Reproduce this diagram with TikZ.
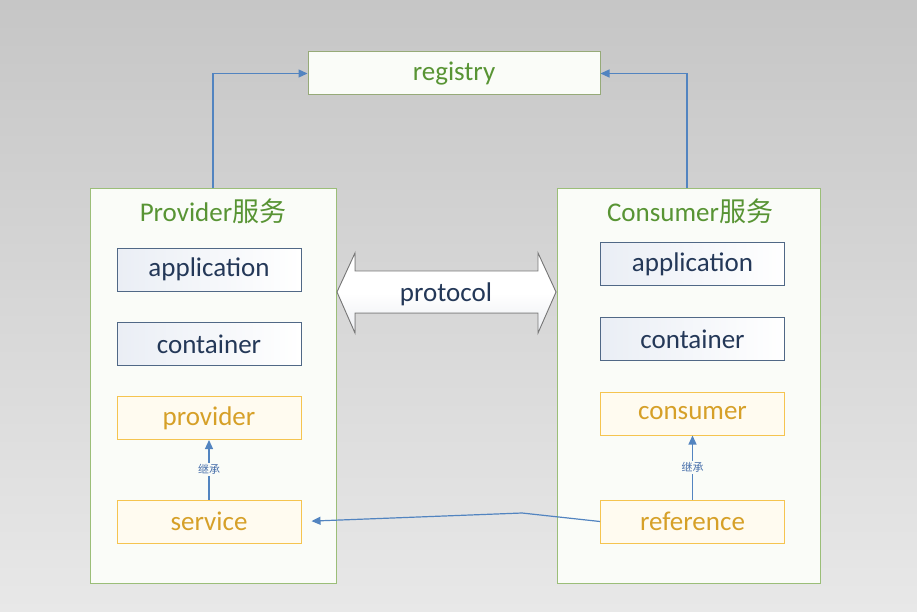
\documentclass[tikz,border=0pt]{standalone}
\usepackage{fontspec}
\setmainfont{Carlito}
\newfontfamily\cjk{Noto Sans CJK SC}
\usetikzlibrary{arrows.meta}
\definecolor{gtext}{RGB}{88,148,52}
\definecolor{gline}{RGB}{155,190,120}
\definecolor{bline}{RGB}{80,104,134}
\definecolor{btext}{RGB}{36,56,88}
\definecolor{oline}{RGB}{245,196,80}
\definecolor{otext}{RGB}{214,160,40}
\definecolor{arrc}{RGB}{82,132,192}
\definecolor{lbl}{RGB}{70,110,170}
\definecolor{outerfill}{RGB}{250,252,248}
\definecolor{bgtop}{RGB}{198,198,198}
\definecolor{bgmid}{RGB}{222,222,222}
\definecolor{bgbot}{RGB}{232,232,232}
\definecolor{bluefill}{RGB}{234,238,245}
\definecolor{orfill}{RGB}{255,251,240}
\definecolor{regline}{RGB}{150,170,120}
\definecolor{regfill}{RGB}{250,252,248}
\definecolor{protoline}{RGB}{120,120,120}
\definecolor{protofill}{RGB}{236,238,242}
\begin{document}
\begin{tikzpicture}[x=1pt,y=-1pt,
  outerbox/.style={draw=gline,fill=outerfill,line width=0.9pt,rectangle},
  bluebox/.style={draw=bline,line width=1pt,left color=bluefill,right color=white,text=btext,minimum width=184pt,minimum height=43pt,font=\fontsize{27}{30}\selectfont},
  orbox/.style={draw=oline,line width=1pt,fill=orfill,text=otext,minimum width=184pt,minimum height=43pt,font=\fontsize{27}{30}\selectfont},
  titletext/.style={text=gtext,font=\fontsize{27}{30}\selectfont},
  arr/.style={draw=arrc,line width=1.2pt,-{Triangle[length=9pt,width=8pt]}},
  inh/.style={text=lbl,fill=outerfill,inner sep=1.5pt,font=\cjk\fontsize{11}{12}\selectfont}
]
\useasboundingbox (0,0) rectangle (917,612);
\shade[top color=bgtop,middle color=bgmid,bottom color=bgbot] (0,0) rectangle (917,612);

% registry
\node[draw=regline,line width=1pt,fill=regfill,text=gtext,minimum width=292pt,minimum height=43pt,font=\fontsize{27}{30}\selectfont] (reg) at (454,73.5) {registry};

% provider side
\node[outerbox,minimum width=246pt,minimum height=395pt] (prov) at (213,385.5) {};
\node[titletext] (provT) at (213,211) {Provider{\cjk 服务}};
\node[bluebox] (app1) at (209,269.5) {application};
\node[bluebox] (cont1) at (209,344) {container};
\node[orbox] (pvd) at (209,418) {provider};
\node[orbox] (svc) at (209,521.5) {service};

% consumer side
\node[outerbox,minimum width=263pt,minimum height=395pt] (cons) at (688.5,385.5) {};
\node[titletext] (consT) at (690,211) {Consumer{\cjk 服务}};
\node[bluebox] (app2) at (692.5,264) {application};
\node[bluebox] (cont2) at (692.5,339) {container};
\node[orbox] (csm) at (692.5,413.5) {consumer};
\node[orbox] (ref) at (692.5,521.5) {reference};

% protocol double arrow
\filldraw[draw=protoline,line width=0.9pt,top color=white,bottom color=protofill,middle color=white]
  (337,292) -- (355,253) -- (355,271) -- (538,271) -- (538,253) -- (556,292)
  -- (538,333) -- (538,313) -- (355,313) -- (355,333) -- cycle;
\node[text=btext,font=\fontsize{27}{30}\selectfont] (proto) at (446,294) {protocol};

% connectors
\coordinate (ctop) at (687,188);
\draw[arr] (prov.north) |- (reg.west);
\draw[arr] (ctop) |- (reg.east);
\draw[arr] (svc.north) -- node[inh] {继承} (pvd.south);
\draw[arr] (ref.north) -- node[inh] {继承} (csm.south);
\coordinate (bend) at (522,513);
\draw[arr,shorten >=10pt] (ref.west) -- (bend) -- (svc.east);
\end{tikzpicture}
\end{document}
